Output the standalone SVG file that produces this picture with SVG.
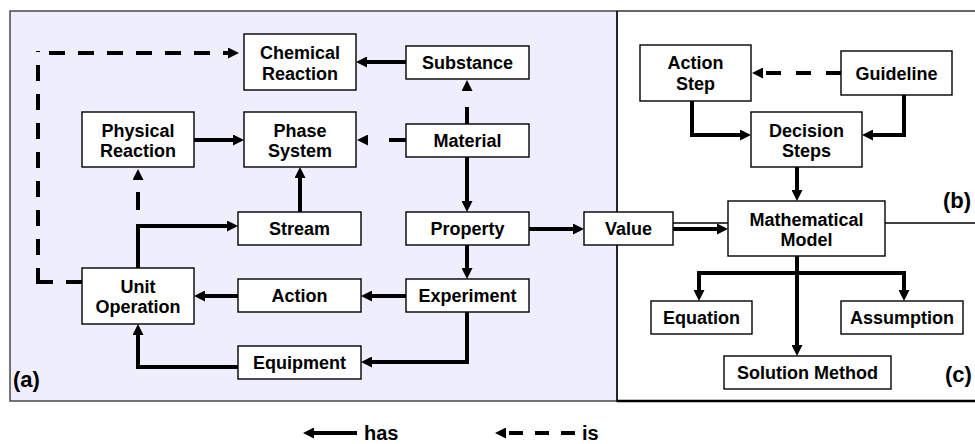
<svg xmlns="http://www.w3.org/2000/svg" width="975" height="444" viewBox="0 0 975 444">
  <style>
    .box { fill: #ffffff; stroke: #000000; stroke-width: 1.4; }
    .lbl { font-family: "Liberation Sans", Arial, Helvetica, sans-serif; font-weight: bold; font-size: 18px; fill: #000000; text-anchor: middle; }
    .tag { font-family: "Liberation Sans", Arial, Helvetica, sans-serif; font-weight: bold; font-size: 22px; fill: #000000; }
    .leg { font-family: "Liberation Sans", Arial, Helvetica, sans-serif; font-weight: bold; font-size: 20px; fill: #000000; }
    .has { fill: none; stroke: #000000; stroke-width: 4; stroke-linejoin: miter; marker-end: url(#head); }
    .is { fill: none; stroke: #000000; stroke-width: 4; stroke-linejoin: miter; marker-end: url(#head); }
  </style>
  <defs>
    <!-- arrowhead: base sits at the path end, tip 11px further on -->
    <marker id="head" viewBox="0 0 11 11" refX="0" refY="5.5" markerWidth="11" markerHeight="11" markerUnits="userSpaceOnUse" orient="auto">
      <path d="M0,0 L11,5.5 L0,11 Z" fill="#000000"/>
    </marker>
  </defs>

  <!-- panel frames -->
  <g id="frames">
    <rect x="10" y="11" width="607" height="390" fill="#eeeefc" stroke="#4a4a4a" stroke-width="1.5"/>
    <line x1="617" y1="11" x2="975" y2="11" stroke="#333333" stroke-width="1.3"/>
    <line x1="617" y1="11" x2="617" y2="402" stroke="#111111" stroke-width="1.6"/>
    <line x1="617" y1="401" x2="975" y2="401" stroke="#000000" stroke-width="2.6"/>
    <line x1="617" y1="223" x2="975" y2="223" stroke="#000000" stroke-width="1.3"/>
  </g>

  <!-- connectors -->
  <g id="connectors">
    <!-- has -->
    <path class="has" d="M406,62 H367"/>
    <path class="has" d="M467,157 V201"/>
    <path class="has" d="M194,140 H233"/>
    <path class="has" d="M300,212 V178"/>
    <path class="has" d="M138,268 V226 H227"/>
    <path class="has" d="M467,245 V268"/>
    <path class="has" d="M406,296 H372"/>
    <path class="has" d="M238,296 H205"/>
    <path class="has" d="M467,312 V362 H372"/>
    <path class="has" d="M238,367 H138 V335"/>
    <path class="has" d="M529,229 H573"/>
    <path class="has" d="M673,229 H717"/>
    <path class="has" d="M692,101 V135 H740"/>
    <path class="has" d="M904,95 V135 H873"/>
    <path class="has" d="M797,167 V190"/>
    <path class="has" d="M797,256 V345"/>
    <path class="has" d="M797,273 H699 V290"/>
    <path class="has" d="M797,273 H904 V290"/>
    <!-- is -->
    <path class="is" d="M467,124 V91" stroke-dasharray="17 16"/>
    <path class="is" d="M406,140 H368" stroke-dasharray="17 21"/>
    <path class="is" d="M138,226 V180" stroke-dasharray="18 16" stroke-dashoffset="18"/>
    <path class="is" d="M82,282 H36 M38,284 V51 M49,53 H228" stroke-dasharray="16 13"/>
    <path class="is" d="M841,73 H763" stroke-dasharray="15 15"/>
  </g>

  <!-- panel (a) -->
  <g id="chemical-reaction">
    <rect class="box" x="244" y="34" width="112" height="56"/>
    <text class="lbl" x="300" y="59">Chemical</text>
    <text class="lbl" x="300" y="79.5">Reaction</text>
  </g>
  <g id="substance">
    <rect class="box" x="406" y="46" width="123" height="33"/>
    <text class="lbl" x="467.5" y="69">Substance</text>
  </g>
  <g id="physical-reaction">
    <rect class="box" x="82" y="112" width="112" height="55"/>
    <text class="lbl" x="138" y="136.5">Physical</text>
    <text class="lbl" x="138" y="157">Reaction</text>
  </g>
  <g id="phase-system">
    <rect class="box" x="244" y="112" width="112" height="55"/>
    <text class="lbl" x="300" y="136.5">Phase</text>
    <text class="lbl" x="300" y="157">System</text>
  </g>
  <g id="material">
    <rect class="box" x="406" y="124" width="123" height="33"/>
    <text class="lbl" x="467.5" y="147">Material</text>
  </g>
  <g id="stream">
    <rect class="box" x="238" y="212" width="123" height="33"/>
    <text class="lbl" x="299.5" y="235">Stream</text>
  </g>
  <g id="property">
    <rect class="box" x="406" y="212" width="123" height="33"/>
    <text class="lbl" x="467.5" y="235">Property</text>
  </g>
  <g id="unit-operation">
    <rect class="box" x="82" y="268" width="112" height="56"/>
    <text class="lbl" x="138" y="292.5">Unit</text>
    <text class="lbl" x="138" y="313">Operation</text>
  </g>
  <g id="action">
    <rect class="box" x="238" y="279" width="123" height="33"/>
    <text class="lbl" x="299.5" y="302">Action</text>
  </g>
  <g id="experiment">
    <rect class="box" x="406" y="279" width="123" height="33"/>
    <text class="lbl" x="467.5" y="302">Experiment</text>
  </g>
  <g id="equipment">
    <rect class="box" x="238" y="346" width="123" height="33"/>
    <text class="lbl" x="299.5" y="369">Equipment</text>
  </g>
  <text class="tag" x="13" y="387">(a)</text>

  <!-- panels (b) and (c) -->
  <g id="value">
    <rect class="box" x="584" y="212" width="89" height="33"/>
    <text class="lbl" x="628.5" y="235">Value</text>
  </g>
  <g id="action-step">
    <rect class="box" x="640" y="45" width="111" height="56"/>
    <text class="lbl" x="695.5" y="69">Action</text>
    <text class="lbl" x="695.5" y="90">Step</text>
  </g>
  <g id="guideline">
    <rect class="box" x="841" y="51" width="111" height="44"/>
    <text class="lbl" x="896.5" y="79.5">Guideline</text>
  </g>
  <g id="decision-steps">
    <rect class="box" x="751" y="112" width="111" height="55"/>
    <text class="lbl" x="806.5" y="136.5">Decision</text>
    <text class="lbl" x="806.5" y="157">Steps</text>
  </g>
  <g id="mathematical-model">
    <rect class="box" x="728" y="201" width="157" height="55"/>
    <text class="lbl" x="806.5" y="225.5">Mathematical</text>
    <text class="lbl" x="806.5" y="246">Model</text>
  </g>
  <g id="equation">
    <rect class="box" x="651" y="301" width="101" height="33"/>
    <text class="lbl" x="701.5" y="324">Equation</text>
  </g>
  <g id="assumption">
    <rect class="box" x="841" y="301" width="122" height="33"/>
    <text class="lbl" x="902" y="324">Assumption</text>
  </g>
  <g id="solution-method">
    <rect class="box" x="724" y="356" width="167" height="33"/>
    <text class="lbl" x="807.5" y="379">Solution Method</text>
  </g>
  <text class="tag" x="943" y="208">(b)</text>
  <text class="tag" x="945" y="382">(c)</text>

  <!-- legend -->
  <g id="legend">
    <path class="has" d="M357,433 H314"/>
    <text class="leg" x="364" y="440">has</text>
    <path class="is" d="M575,433 H506" stroke-dasharray="14 12"/>
    <text class="leg" x="582" y="440">is</text>
  </g>
</svg>
